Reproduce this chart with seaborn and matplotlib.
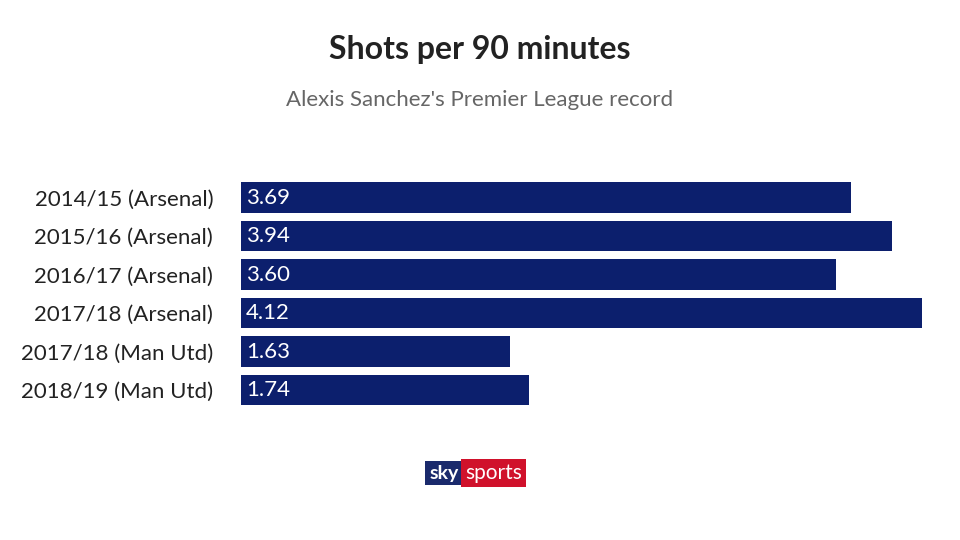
import matplotlib
matplotlib.use("Agg")
import matplotlib.pyplot as plt
import seaborn as sns
import pandas as pd

plt.rcParams["font.family"] = "Lato"

seasons = ["2014/15 (Arsenal)", "2015/16 (Arsenal)", "2016/17 (Arsenal)",
           "2017/18 (Arsenal)", "2017/18 (Man Utd)", "2018/19 (Man Utd)"]
shots = [3.69, 3.94, 3.60, 4.12, 1.63, 1.74]
df = pd.DataFrame({"season": seasons, "shots": shots})

fig = plt.figure(figsize=(9.6, 5.4), dpi=100)
fig.patch.set_facecolor("white")
ax = fig.add_axes([0.251, 0.2421, 0.7094, 0.4278])
sns.barplot(data=df, x="shots", y="season", color="#0c1f6d", width=0.78,
            saturation=1, ax=ax, orient="h")
ax.set_xlim(0, 4.12)
ax.set_ylim(5.5, -0.5)
ax.set_xlabel(""); ax.set_ylabel("")
ax.set_xticks([])
for s in ax.spines.values():
    s.set_visible(False)
ax.tick_params(axis="y", length=0, pad=20, labelsize=16, labelcolor="#222222")
for i, v in enumerate(shots):
    ax.text(0.03, i, f"{v:.2f}", color="white", va="center", ha="left", fontsize=16)

fig.text(0.5, 1 - 50 / 540, "Shots per 90 minutes", ha="center", va="center",
         fontsize=23, fontweight="bold", color="#222222")
fig.text(0.5, 1 - 100 / 540, "Alexis Sanchez's Premier League record", ha="center",
         va="center", fontsize=16, color="#666666")
fig.text(0.4625, 1 - 473 / 540, "sky", ha="center", va="center", fontsize=14,
         fontweight="bold", color="white",
         bbox=dict(boxstyle="square,pad=0.2", fc="#1a2a6c", ec="none"))
fig.text(0.4845, 1 - 473 / 540, "sports", ha="left", va="center", fontsize=15,
         color="white",
         bbox=dict(boxstyle="square,pad=0.2", fc="#d0112b", ec="none"))
fig.savefig("out.png", dpi=100)
